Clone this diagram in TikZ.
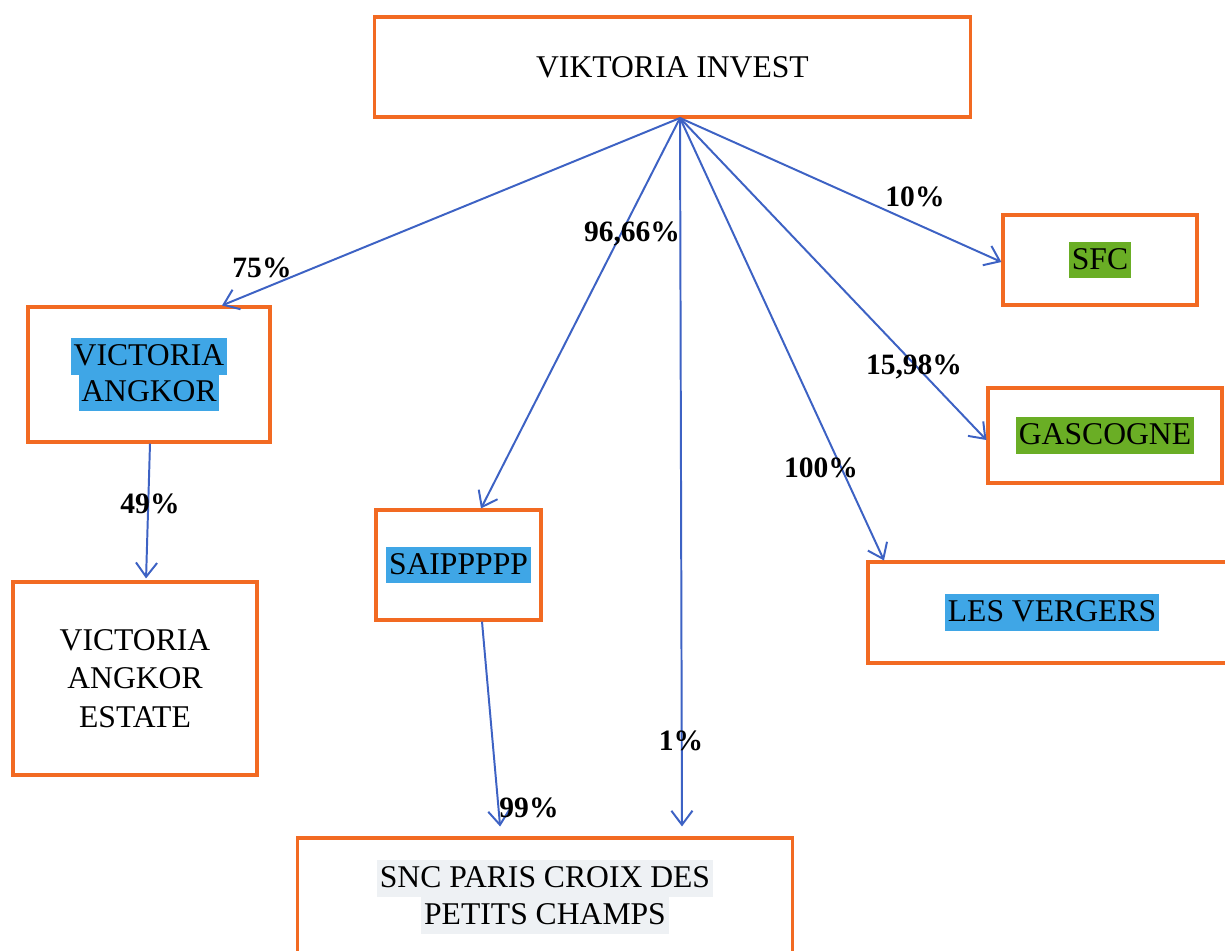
\documentclass[tikz,border=0pt]{standalone}
\usepackage{fontspec}
\setmainfont{Liberation Serif}
\usetikzlibrary{arrows.meta}
\definecolor{boxorange}{HTML}{F26A22}
\definecolor{arrowblue}{HTML}{3D62C4}
\definecolor{hlblue}{HTML}{3FA6E6}
\definecolor{hlgreen}{HTML}{6AAE25}
\definecolor{hlgray}{HTML}{EEF1F4}
\newcommand{\hlt}[2]{{\setlength{\fboxsep}{0pt}\colorbox{#1}{\rule[-6.5pt]{0pt}{26pt}\kern2pt #2\kern2pt}}}
\begin{document}
\begin{tikzpicture}[x=0.025cm,y=-0.025cm,
  box/.style={draw=boxorange,line width=2.2pt,rectangle,inner sep=0pt,align=center,
    font=\fontsize{22.5}{26}\selectfont},
  conn/.style={draw=arrowblue,line width=1.4pt,
    -{Straight Barb[length=10pt,width=15pt,line width=1.4pt]}},
  pct/.style={font=\fontsize{21}{24}\selectfont\bfseries,inner sep=0pt}]
\path[use as bounding box, clip] (0,0) rectangle (1225,950);
\fill[white] (0,0) rectangle (1225,950);

\node[box,minimum width=14.875cm,minimum height=2.5cm] (vi) at (672.5,67) {VIKTORIA INVEST};
\node[box,minimum width=6.05cm,minimum height=3.375cm] (va) at (149,374.5)
  {\hlt{hlblue}{VICTORIA}\\\hlt{hlblue}{ANGKOR}};
\node[box,minimum width=6.1cm,minimum height=4.825cm,
  font=\fontsize{22.5}{27.5}\selectfont] (vae) at (135,678.5) {VICTORIA\\ANGKOR\\ESTATE};
\node[box,minimum width=4.125cm,minimum height=2.75cm] (saip) at (458.5,565) {\hlt{hlblue}{SAIPPPPP}};
\node[box,minimum width=12.35cm,minimum height=2.95cm] (snc) at (545,897)
  {\hlt{hlgray}{SNC PARIS CROIX DES}\\\hlt{hlgray}{PETITS CHAMPS}};
\node[box,minimum width=4.85cm,minimum height=2.25cm] (sfc) at (1100,260) {\hlt{hlgreen}{SFC}};
\node[box,minimum width=5.85cm,minimum height=2.375cm] (gas) at (1105,435.5) {\hlt{hlgreen}{GASCOGNE}};
\node[box,minimum width=9.2cm,minimum height=2.525cm] (lv) at (1052,612.5) {\hlt{hlblue}{LES VERGERS}};

\coordinate (o) at (680,118);
\draw[conn] (o) -- (va.north -| 222,0);
\draw[conn] (o) -- (saip.north -| 481,0);
\draw[conn,shorten >=0.25cm] (o) -- (snc.north -| 682,0);
\draw[conn] (o) -- (lv.north -| 884,0);
\draw[conn] (o) -- (gas.west |- 0,440);
\draw[conn] (o) -- (sfc.west |- 0,262);
\draw[conn,shorten >=0.05cm] (va.south -| 150,0) -- (vae.north -| 146,0);
\draw[conn,shorten >=0.25cm] (saip.south -| 482,0) -- (snc.north -| 501,0);

\node[pct] (l75) at (262,268) {75\%};
\node[pct] (l9666) at (632,234) {96,66\%};
\node[pct] (l10) at (915,197) {10\%};
\node[pct] (l1598) at (914,367) {15,98\%};
\node[pct] (l100) at (821,468) {100\%};
\node[pct] (l49) at (150,504) {49\%};
\node[pct] (l1) at (681,741) {1\%};
\node[pct] (l99) at (529,808) {99\%};
\end{tikzpicture}
\end{document}
